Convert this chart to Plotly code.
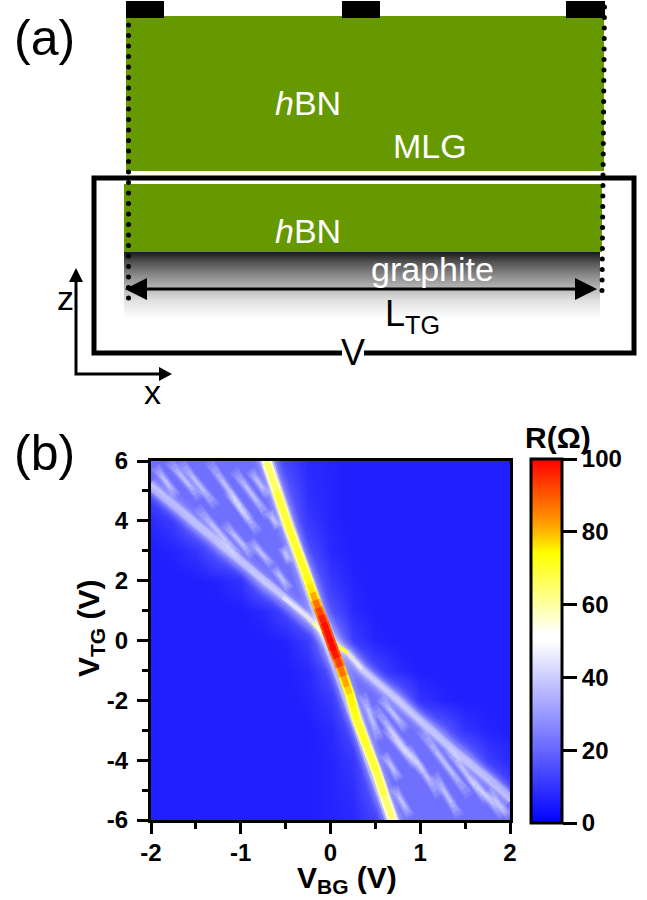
import plotly.graph_objects as go

# ---------- panel (b) data ----------
vbg_grid = [-2, -1.75, -1.5, -1.25, -1, -0.75, -0.5, -0.25, 0, 0.25, 0.5, 0.75, 1, 1.25, 1.5, 1.75, 2]
vtg_grid = [6, 5, 4, 3, 2, 1, 0, -1, -2, -3, -4, -5, -6]
r_grid = [
    [22, 22, 22, 22, 22, 22, 13, 8, 7, 6, 6, 6, 6, 6, 6, 6, 6],
    [14, 22, 22, 22, 22, 22, 18, 9, 7, 6, 6, 6, 6, 6, 6, 6, 6],
    [8, 12, 22, 22, 22, 22, 22, 11, 7, 6, 6, 6, 6, 6, 6, 6, 6],
    [6, 7, 10, 18, 22, 22, 22, 15, 8, 6, 6, 6, 6, 6, 6, 6, 6],
    [6, 6, 6, 7, 10, 22, 22, 22, 11, 7, 6, 6, 6, 6, 6, 6, 6],
    [6, 6, 6, 6, 6, 8, 14, 22, 16, 8, 6, 6, 6, 6, 6, 6, 6],
    [6, 6, 6, 6, 6, 6, 7, 12, 30, 12, 7, 6, 6, 6, 6, 6, 6],
    [6, 6, 6, 6, 6, 6, 6, 8, 16, 22, 14, 8, 6, 6, 6, 6, 6],
    [6, 6, 6, 6, 6, 6, 6, 7, 11, 22, 22, 22, 10, 7, 6, 6, 6],
    [6, 6, 6, 6, 6, 6, 6, 6, 8, 15, 22, 22, 22, 18, 10, 7, 6],
    [6, 6, 6, 6, 6, 6, 6, 6, 7, 11, 22, 22, 22, 22, 22, 12, 8],
    [6, 6, 6, 6, 6, 6, 6, 6, 7, 9, 18, 22, 22, 22, 22, 22, 14],
    [6, 6, 6, 6, 6, 6, 6, 6, 7, 8, 13, 22, 22, 22, 22, 22, 22],
]
fan_r = 22

steep_vbg = [-0.72, -0.707, -0.60, -0.49, -0.373, -0.27, -0.235, -0.20, -0.17, -0.14, -0.105, -0.075, -0.045, -0.015,
             0.01, 0.04, 0.075, 0.11, 0.145, 0.185, 0.215, 0.25, 0.295, 0.40, 0.518, 0.60, 0.685, 0.70]
steep_vtg = [6.1, 5.93, 5.0, 4.0, 3.03, 2.2, 1.9, 1.6, 1.35, 1.1, 0.85, 0.6, 0.35, 0.1,
             -0.1, -0.35, -0.6, -0.89, -1.2, -1.55, -1.8, -2.2, -2.66, -3.5, -4.43, -5.2, -5.93, -6.1]
steep_r = [60, 62, 68, 70, 70, 72, 74, 78, 84, 90, 95, 98, 99, 99,
           100, 99, 96, 90, 84, 79, 76, 73, 72, 70, 69, 66, 62, 60]

shallow_vbg = [-2.02, -1.64, -1.26, -0.90, -0.53, -0.30, -0.19, -0.10, 0.03, 0.195, 0.35, 0.66, 1.03, 1.41, 1.78, 2.02]
shallow_vtg = [5.2, 4.26, 3.26, 2.36, 1.45, 0.9, 0.59, 0.3, -0.08, -0.42, -0.95, -1.75, -2.76, -3.76, -4.66, -5.3]
shallow_r = [36, 38, 40, 43, 47, 52, 58, 68, 80, 60, 50, 46, 43, 41, 38, 34]

# each streak: start vbg, end vbg, start vtg, end vtg
streak_vbg0 = [-1.955, -1.68, -1.36, -1.08, -0.90, -0.69, -0.54, -1.49, -1.19, -0.90, -0.64, -1.80, -1.15,
               0.35, 0.59, 0.70, 0.85, 1.15, 1.55, 0.48, 1.0, 0.55, 1.3, 0.6, 1.75]
streak_vbg1 = [-1.71, -1.27, -0.90, -0.69, -0.69, -0.58, -0.45, -1.01, -0.86, -0.64, -0.45, -1.45, -0.80,
               0.55, 0.77, 0.89, 1.22, 1.44, 1.93, 1.03, 1.55, 0.85, 1.75, 0.95, 2.0]
streak_vtg0 = [5.81, 6.0, 6.0, 5.7, 5.7, 4.31, 3.14, 4.47, 3.92, 3.36, 2.47, 6.0, 5.0,
               -1.77, -3.77, -4.88, -3.55, -4.44, -4.55, -2.2, -3.0, -1.9, -3.6, -2.9, -5.0]
streak_vtg1 = [4.81, 4.47, 4.03, 4.14, 4.81, 3.75, 2.58, 2.8, 2.8, 2.47, 1.69, 4.75, 3.6,
               -3.33, -4.66, -5.89, -5.22, -5.89, -5.89, -4.4, -5.2, -3.0, -5.4, -4.2, -5.9]

x_ticks = [-2, -1, 0, 1, 2]
x_tick_text = ["-2", "-1", "0", "1", "2"]
y_ticks = [-6, -4, -2, 0, 2, 4, 6]
y_tick_text = ["-6", "-4", "-2", "0", "2", "4", "6"]
cbar_ticks = [0, 20, 40, 60, 80, 100]

colorscale = [[0, "#0000ff"], [0.5, "#ffffff"], [0.52, "#ffffff"], [0.74, "#ffff00"], [0.82, "#ffa000"], [1, "#ff0000"]]

# ---------- panel (a) schematic, in page pixels ----------
contacts = [(126, 164), (342, 380), (566, 605)]
green_rects = [(126, 604, 16, 171), (124, 602, 184, 252)]
gradient_stops = [(252, 28), (262, 85), (275, 138), (288, 184), (300, 224), (318, 255)]
frame_path = "M 342 353 L 94 353 L 94 178 L 634 178 L 634 353 L 364 353"
texts = [
    ("(a)", 13, 38, 50, "black"), ("(b)", 13, 453, 50, "black"),
    ("<i>h</i>BN", 274, 103, 34, "white"), ("MLG", 392, 146, 34, "white"),
    ("<i>h</i>BN", 274, 231, 34, "white"), ("graphite", 370, 269, 34, "white"),
    ("L<sub>TG</sub>", 384, 316, 36, "black"), ("V", 340, 352, 36, "black"),
    ("z", 56, 298, 34, "black"), ("x", 143, 392, 34, "black"),
]

FONT = "Liberation Sans"


def hex_to_rgb(h):
    return [int(h[i:i + 2], 16) for i in (1, 3, 5)]


def r_color(value):
    t = max(0, min(1, value / 100))
    for (a, ca), (b, cb) in zip(colorscale, colorscale[1:]):
        if t <= b:
            f = (t - a) / (b - a)
            ra, rb = hex_to_rgb(ca), hex_to_rgb(cb)
            return "rgb(%d,%d,%d)" % tuple(round(p + (q - p) * f) for p, q in zip(ra, rb))
    return colorscale[-1][1]


fig = go.Figure()

fig.add_trace(go.Heatmap(
    x=vbg_grid, y=vtg_grid, z=r_grid, zmin=0, zmax=100, zsmooth="best", colorscale=colorscale,
    hoverinfo="skip",
    colorbar=dict(
        thickness=31, thicknessmode="pixels", len=364, lenmode="pixels", x=531 / 647, xanchor="left", xpad=0,
        y=77 / 900, yanchor="bottom", ypad=0, outlinewidth=3, outlinecolor="black",
        tickmode="array", tickvals=cbar_ticks, ticks="outside", ticklen=14, tickwidth=3, tickcolor="black",
        tickfont=dict(family=FONT, size=24, color="black", weight="bold"),
    ),
))


def line(x, y, color, width):
    fig.add_trace(go.Scatter(x=x, y=y, mode="lines", line=dict(color=color, width=width),
                             hoverinfo="skip", showlegend=False))


# fan regions between the two ridges
i_s = steep_vtg.index(0.1) + 1
j_s = shallow_vtg.index(-0.08) + 1
fan_upper_x = shallow_vbg[:j_s] + steep_vbg[:i_s][::-1] + [-2.02]
fan_upper_y = shallow_vtg[:j_s] + steep_vtg[:i_s][::-1] + [6.1]
fan_lower_x = shallow_vbg[j_s - 1:] + [2.02] + steep_vbg[i_s - 1:][::-1]
fan_lower_y = shallow_vtg[j_s - 1:] + [-6.1] + steep_vtg[i_s - 1:][::-1]
for fx, fy in ((fan_upper_x, fan_upper_y), (fan_lower_x, fan_lower_y)):
    fig.add_trace(go.Scatter(x=fx, y=fy, mode="lines", fill="toself", fillcolor=r_color(fan_r),
                             line=dict(width=0), hoverinfo="skip", showlegend=False))

# streaks inside the fans: soft tapered layers
for trim, width, alpha in ((0.0, 10, 0.09), (0.05, 8, 0.11), (0.12, 6, 0.14), (0.22, 4, 0.17), (0.32, 3, 0.20)):
    sx, sy = [], []
    for a, b, c, d in zip(streak_vbg0, streak_vbg1, streak_vtg0, streak_vtg1):
        sx += [a + (b - a) * trim, b - (b - a) * trim, None]
        sy += [c + (d - c) * trim, d - (d - c) * trim, None]
    line(sx, sy, f"rgba(255,255,255,{alpha})", width)

# shallow ridge: soft white layers, then coloured core that only saturates near the crossing
for width, alpha in ((24, 0.05), (18, 0.08), (14, 0.12), (10, 0.20), (7, 0.28)):
    line(shallow_vbg, shallow_vtg, f"rgba(255,255,255,{alpha})", width)
for k in range(len(shallow_vbg) - 1):
    mid = abs(shallow_vbg[k] + shallow_vbg[k + 1]) / 2
    a = 1 if mid < 0.2 else (0.6 if mid < 0.5 else 0.3)
    rgb = r_color((shallow_r[k] + shallow_r[k + 1]) / 2)
    line(shallow_vbg[k:k + 2], shallow_vtg[k:k + 2], rgb.replace("rgb(", "rgba(").replace(")", f",{a})"), 4)

# steep ridge: glow, pale edge, coloured core
for width, alpha in ((26, 0.06), (21, 0.10), (16, 0.18), (13, 0.40)):
    line(steep_vbg, steep_vtg, f"rgba(255,255,255,{alpha})", width)
for k in range(len(steep_vbg) - 1):
    v = (steep_r[k] + steep_r[k + 1]) / 2
    line(steep_vbg[k:k + 2], steep_vtg[k:k + 2], r_color(max(v - 8, 56)), 10)
for k in range(len(steep_vbg) - 1):
    line(steep_vbg[k:k + 2], steep_vtg[k:k + 2], r_color((steep_r[k] + steep_r[k + 1]) / 2), 6)

# ---------- schematic ----------
shapes = []
for x0, x1, y0, y1 in green_rects:
    shapes.append(dict(type="rect", x0=x0, x1=x1, y0=y0, y1=y1, fillcolor="#669900", line_width=0))
for (y0, g0), (y1, g1) in zip(gradient_stops, gradient_stops[1:]):
    for py in range(y0, y1):
        g = round(g0 + (g1 - g0) * (py - y0) / (y1 - y0))
        shapes.append(dict(type="rect", x0=124, x1=600, y0=py, y1=py + 1.2, fillcolor=f"rgb({g},{g},{g})", line_width=0))
for x0, x1 in contacts:
    shapes.append(dict(type="rect", x0=x0, x1=x1, y0=1, y1=18, fillcolor="black", line_width=0))
shapes.append(dict(type="path", path=frame_path, line=dict(color="black", width=5)))
shapes.append(dict(type="line", x0=136, x1=586, y0=289, y1=289, line=dict(color="black", width=3)))
shapes.append(dict(type="path", path="M 125 289 L 147 278 L 147 300 Z", fillcolor="black", line_width=0))
shapes.append(dict(type="path", path="M 597 289 L 575 278 L 575 300 Z", fillcolor="black", line_width=0))
shapes.append(dict(type="path", path="M 76 280 L 76 374 L 162 374", line=dict(color="black", width=3)))
shapes.append(dict(type="path", path="M 76 268 L 69 282 L 83 282 Z", fillcolor="black", line_width=0))
shapes.append(dict(type="path", path="M 172 374 L 159 367 L 159 381 Z", fillcolor="black", line_width=0))
for s in shapes:
    s.update(xref="x2", yref="y2", layer="below")

left_dots_y = [25 + 10.5 * i for i in range(27)]
right_dots_y = [7 + 10.5 * i for i in range(28)]
dots_x = [128.5] * len(left_dots_y) + [604.5 - 2.5 * i / 27 for i in range(28)]
dots_y = left_dots_y + right_dots_y
fig.add_trace(go.Scatter(x=dots_x, y=dots_y, xaxis="x2", yaxis="y2", mode="markers",
                         marker=dict(color="black", size=5), hoverinfo="skip", showlegend=False))

annotations = []
for txt, px, py, size, col in texts:
    annotations.append(dict(text=txt, x=px, y=py, xref="x2", yref="y2", xanchor="left", yanchor="middle",
                            showarrow=False, borderpad=0, font=dict(family=FONT, size=size, color=col)))
annotations += [
    dict(text="<b>V<sub>BG</sub> (V)</b>", x=347, y=879, xref="x2", yref="y2", showarrow=False,
         font=dict(family=FONT, size=30, color="black")),
    dict(text="<b>V<sub>TG</sub> (V)</b>", x=90, y=628, xref="x2", yref="y2", showarrow=False, textangle=-90,
         font=dict(family=FONT, size=30, color="black")),
    dict(text="<b>R(Ω)</b>", x=558, y=437, xref="x2", yref="y2", showarrow=False,
         font=dict(family=FONT, size=30, color="black")),
]

axis_common = dict(showgrid=False, zeroline=False, showline=True, linecolor="black", linewidth=3, mirror=True,
                   ticks="outside", ticklen=11, tickwidth=3, tickcolor="black",
                   tickfont=dict(family=FONT, size=24, color="black", weight="bold"))

fig.update_layout(
    width=647, height=900, margin=dict(l=0, r=0, t=0, b=0, autoexpand=False),
    paper_bgcolor="white", plot_bgcolor="rgba(0,0,0,0)", showlegend=False,
    xaxis=dict(domain=[151 / 647, 510 / 647], range=[-2, 2], tickmode="array", tickvals=x_ticks, ticktext=x_tick_text,
               minor=dict(tickmode="array", tickvals=[-1.5, -0.5, 0.5, 1.5], ticks="outside", ticklen=6,
                          tickwidth=3, tickcolor="black"),
               ticklabelstandoff=-2, **axis_common),
    yaxis=dict(domain=[80 / 900, 439 / 900], range=[-6, 6], tickmode="array", tickvals=y_ticks, ticktext=y_tick_text,
               minor=dict(tickmode="array", tickvals=[-5, -3, -1, 1, 3, 5], ticks="outside", ticklen=6,
                          tickwidth=3, tickcolor="black"),
               ticklabelstandoff=4, **axis_common),
    xaxis2=dict(domain=[0, 1], range=[0, 647], visible=False, anchor="y2", fixedrange=True),
    yaxis2=dict(domain=[0, 1], range=[900, 0], visible=False, anchor="x2", fixedrange=True),
    shapes=shapes, annotations=annotations,
)

fig.write_html("out.html", config={"displayModeBar": False},
               post_script="document.body.style.margin='0';")
